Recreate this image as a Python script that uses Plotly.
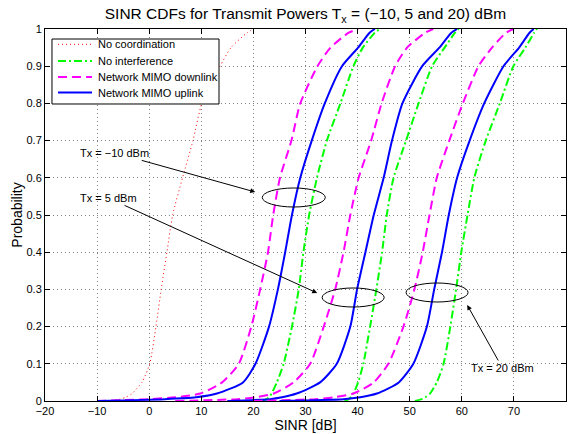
import plotly.graph_objects as go

# Probability levels at which the CDF curves were read
prob = [0, 0.005, 0.01, 0.02, 0.05, 0.1, 0.2, 0.3, 0.4, 0.5, 0.6, 0.7, 0.8, 0.9, 0.95, 0.99, 1.0]

# SINR [dB] at each probability level
no_coord = [-8.0, -5.6, -4.5, -3.3, -1.4, 0.1, 1.3, 2.3, 3.4, 4.5, 6.4, 8.4, 10.1, 13.6, 15.7, 18.8, 20.0]

mag_m10 = [-10.0, 0.0, 5.0, 9.8, 14.0, 17.2, 19.6, 21.3, 22.8, 23.8, 25.1, 27.3, 29.0, 32.3, 34.8, 38.3, 40.1]
blu_m10 = [-10.0, 3.0, 9.0, 13.0, 18.0, 20.4, 23.0, 24.7, 26.1, 27.4, 29.0, 31.2, 33.7, 37.0, 40.1, 42.3, 43.3]
grn_m10 = [21.5, 22.5, 23.0, 23.5, 24.5, 25.8, 27.4, 28.7, 29.6, 30.7, 32.2, 34.1, 36.7, 39.2, 41.0, 43.3, 44.3]

mag_5 = [5.0, 17.0, 20.5, 23.9, 27.7, 30.9, 33.5, 35.7, 37.3, 38.6, 40.2, 42.6, 44.6, 47.2, 49.5, 53.0, 54.5]
blu_5 = [15.0, 23.2, 25.5, 28.3, 32.8, 36.0, 38.6, 39.9, 41.5, 43.1, 45.0, 46.6, 48.6, 52.4, 55.7, 58.0, 59.1]
grn_5 = [37.5, 38.3, 38.7, 39.2, 40.1, 41.1, 42.4, 43.6, 44.7, 45.6, 46.9, 49.3, 51.7, 54.3, 56.7, 58.7, 59.4]

mag_20 = [20.0, 32.0, 35.5, 39.2, 43.1, 45.9, 48.8, 50.9, 52.5, 53.8, 55.2, 57.6, 60.2, 63.2, 65.8, 68.5, 69.9]
blu_20 = [25.0, 37.3, 40.5, 43.7, 47.9, 50.7, 53.3, 54.7, 56.2, 57.5, 59.1, 61.5, 64.3, 68.0, 71.0, 73.0, 73.8]
grn_20 = [51.0, 52.3, 53.0, 53.9, 55.2, 56.5, 57.8, 58.9, 59.9, 61.1, 62.4, 64.6, 67.3, 69.9, 72.2, 73.9, 74.4]

x_ticks = [-20, -10, 0, 10, 20, 30, 40, 50, 60, 70, 80]
y_ticks = [0, 0.1, 0.2, 0.3, 0.4, 0.5, 0.6, 0.7, 0.8, 0.9, 1]

legend_names = ["No coordination", "No interference", "Network MIMO downlink", "Network MIMO uplink"]

FONT = "Liberation Sans, Arial, Helvetica, sans-serif"

styles = {
    "No coordination": dict(color="#FF0000", width=1, dash="1px,3px"),
    "No interference": dict(color="#00FF00", width=2, dash="8px,3px,2px,3px"),
    "Network MIMO downlink": dict(color="#FF00FF", width=2, dash="9px,5px"),
    "Network MIMO uplink": dict(color="#0000FF", width=2, dash="solid"),
}

fig = go.Figure()

def add(xs, name):
    fig.add_trace(go.Scatter(
        x=xs, y=prob, mode="lines", name=name, legendgroup=name, showlegend=False,
        line=dict(shape="spline", smoothing=0.6, **styles[name]),
    ))

add(no_coord, "No coordination")
for g, m, b in [(grn_m10, mag_m10, blu_m10), (grn_5, mag_5, blu_5), (grn_20, mag_20, blu_20)]:
    add(g, "No interference")
    add(m, "Network MIMO downlink")
    add(b, "Network MIMO uplink")

# ellipses
for x0, x1, y0, y1 in [(21.7, 33.8, 0.5215, 0.5726), (33.2, 45.1, 0.2527, 0.3038), (49.3, 61.2, 0.2661, 0.3172)]:
    fig.add_shape(type="circle", xref="x", yref="y", x0=x0, x1=x1, y0=y0, y1=y1,
                  line=dict(color="black", width=1))

# labelled arrows (text at tail, arrow head at the ellipse)
for hx, hy, tx, ty, txt in [(20.35, 0.5618, -6.6, 0.667, "Tx = −10 dBm"),
                            (32.25, 0.2903, -7.9, 0.546, "Tx = 5 dBm"),
                            (61.04, 0.258, 67.8, 0.0887, "Tx = 20 dBm")]:
    fig.add_annotation(x=hx, y=hy, ax=tx, ay=ty, xref="x", yref="y", axref="x", ayref="y",
                       text=txt, showarrow=True, arrowhead=2, arrowsize=1, arrowwidth=1,
                       arrowcolor="black", font=dict(family=FONT, size=11, color="black"))

# legend box (MATLAB-style, compact)
fig.add_shape(type="rect", xref="paper", yref="paper", x0=0.0134, x1=0.334, y0=0.7984, y1=0.9731,
              line=dict(color="black", width=1), fillcolor="white", layer="above")
leg_y = [0.9589, 0.9140, 0.8710, 0.8293]
for name, ly in zip(legend_names, leg_y):
    st = styles[name]
    fig.add_shape(type="line", xref="paper", yref="paper", x0=0.0250, x1=0.0902, y0=ly, y1=ly,
                  line=dict(color=st["color"], width=st["width"], dash=st["dash"]), layer="above")
    fig.add_annotation(x=0.0979, y=ly, xref="paper", yref="paper", text=name, showarrow=False,
                       xanchor="left", yanchor="middle", font=dict(family=FONT, size=11, color="black"))

axis_common = dict(
    showline=True, linecolor="black", linewidth=1, mirror="ticks",
    ticks="inside", ticklen=5, tickcolor="black", tickwidth=1,
    showgrid=True, gridcolor="#808080", gridwidth=1, griddash="1px,3px",
    zeroline=False, tickfont=dict(family=FONT, size=11, color="black"),
    automargin=False,
)

fig.update_xaxes(range=[-20, 80], tickvals=x_ticks,
                 title=dict(text="SINR [dB]", font=dict(family=FONT, size=14, color="black"), standoff=0),
                 **axis_common)
fig.update_yaxes(range=[0, 1], tickvals=y_ticks,
                 title=dict(text="Probability", font=dict(family=FONT, size=14, color="black"), standoff=0),
                 **axis_common)

fig.update_layout(
    width=571, height=434,
    margin=dict(l=45, r=5, t=29, b=33, autoexpand=False),
    paper_bgcolor="white", plot_bgcolor="white",
    font=dict(family=FONT, size=11, color="black"),
    title=dict(text="SINR CDFs for Transmit Powers T<sub>x</sub> = (−10, 5 and 20) dBm",
               font=dict(family=FONT, size=15.5, color="black"),
               x=0.535, xanchor="center", y=1 - 14 / 434, yanchor="middle", yref="container"),
    showlegend=False,
)

fig.write_html("out.html", config={"displayModeBar": False},
               post_script="document.body.style.margin='0';document.body.style.overflow='hidden';")
